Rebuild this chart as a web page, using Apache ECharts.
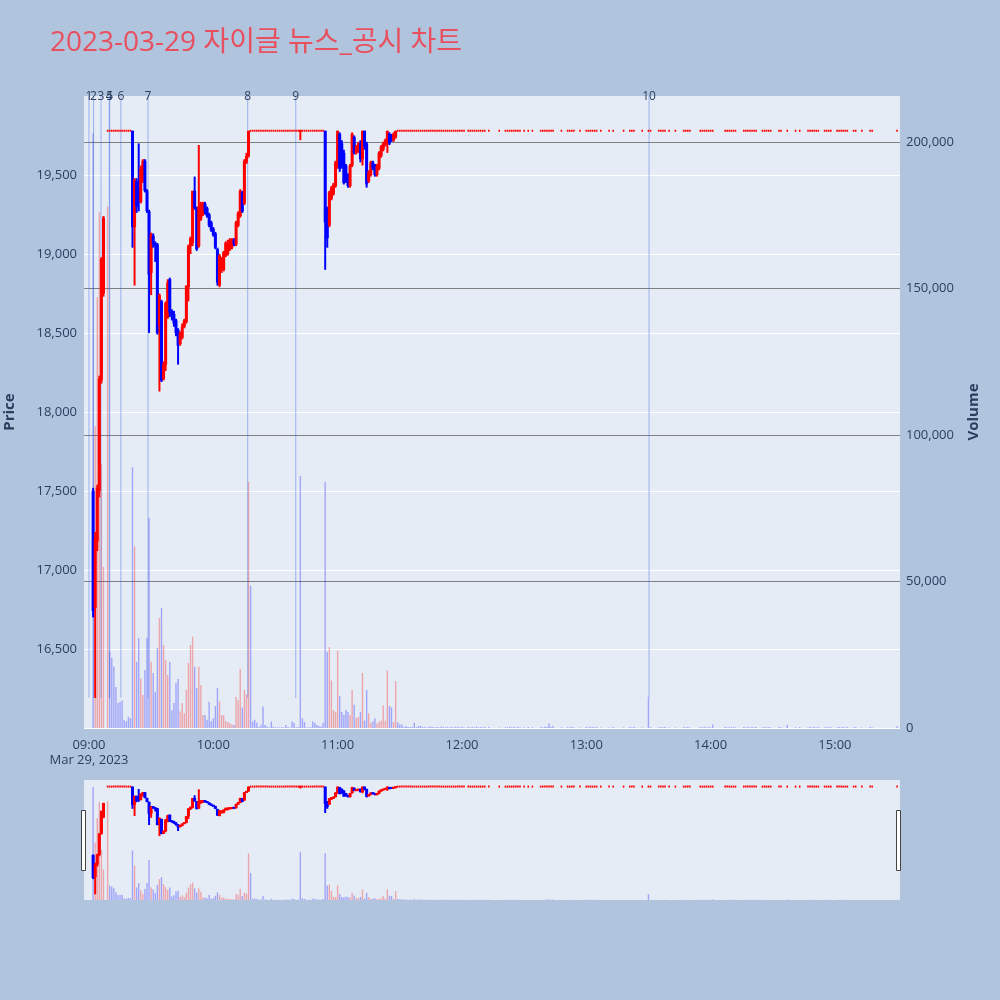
<!DOCTYPE html>
<html>
<head>
<meta charset="utf-8">
<script src="https://cdn.jsdelivr.net/npm/echarts@6/dist/echarts.min.js"></script>
<style>
html,body{margin:0;padding:0;background:#b0c4de;}
#chart{width:1000px;height:1000px;}
</style>
</head>
<body>
<div id="chart"></div>
<script>
// ---------- data ----------
const chartTitle = '2023-03-29 자이글 뉴스_공시 차트';
const dateLabel = 'Mar 29, 2023';

// minute candles with real price movement
const sessionTimes = [
 '09:02','09:03','09:04','09:05','09:06','09:07',
 '09:21','09:22','09:23','09:24','09:25','09:26','09:27','09:28','09:29','09:30',
 '09:31','09:32','09:33','09:34','09:35','09:36','09:37','09:38','09:39','09:40',
 '09:41','09:42','09:43','09:44','09:45','09:46','09:47','09:48','09:49','09:50',
 '09:51','09:52','09:53','09:54','09:55','09:56','09:57','09:58','09:59','10:00',
 '10:01','10:02','10:03','10:04','10:05','10:06','10:07','10:08','10:09','10:10',
 '10:11','10:12','10:13','10:14','10:15','10:16','10:17',
 '10:42',
 '10:54','10:55','10:56','10:57','10:58','10:59','11:00','11:01','11:02','11:03',
 '11:04','11:05','11:06','11:07','11:08','11:09','11:10','11:11','11:12','11:13',
 '11:14','11:15','11:16','11:17','11:18','11:19','11:20','11:21','11:22','11:23',
 '11:24','11:25','11:26','11:27','11:28'
];
const opens = [
 17500,16760,17180,17500,18200,18750,
 19780,19170,19460,19420,19330,19500,19590,19400,19270,18880,
 19115,19070,19060,18550,18700,18210,18300,18600,18840,18640,
 18620,18580,18520,18430,18470,18540,18570,18790,19050,19070,
 19400,19290,19050,19220,19250,19320,19290,19250,19200,19160,
 19130,19030,18800,18930,18900,18990,19000,19030,19040,19090,
 19060,19180,19240,19390,19320,19580,19620,
 19780,
 19780,19280,19180,19350,19380,19430,19560,19760,19700,19640,
 19560,19500,19430,19560,19740,19640,19650,19700,19600,19780,
 19700,19460,19500,19580,19560,19500,19540,19620,19660,19690,
 19700,19760,19750,19720,19740
];
const highs = [
 17520,17240,17540,18230,18980,19240,
 19780,19480,19480,19700,19560,19600,19600,19410,19280,19135,
 19130,19080,19070,18750,18710,18320,18700,18840,18850,18650,
 18640,18590,18530,18510,18560,18590,18800,19060,19110,19400,
 19490,19300,19690,19330,19330,19330,19300,19260,19210,19170,
 19140,19040,19000,18980,19020,19080,19090,19100,19100,19100,
 19210,19270,19410,19400,19600,19640,19780,
 19780,
 19780,19300,19400,19430,19450,19590,19780,19770,19720,19660,
 19570,19510,19570,19770,19750,19690,19710,19720,19780,19780,
 19710,19530,19590,19590,19570,19570,19650,19690,19710,19730,
 19780,19770,19760,19770,19780
];
const lows = [
 16700,16190,17120,17460,18180,18730,
 19040,18800,19260,19270,19320,19450,19390,19260,18500,18740,
 19040,18950,18490,18130,18190,18200,18260,18590,18600,18580,
 18540,18480,18300,18420,18460,18530,18560,18700,19000,19050,
 19280,19020,19040,19210,19240,19250,19230,19170,19140,19110,
 19030,18800,18790,18880,18890,18980,18990,19020,19030,19050,
 19050,19170,19230,19260,19310,19570,19610,
 19720,
 18900,19040,19170,19340,19370,19420,19540,19520,19540,19440,
 19450,19420,19420,19550,19630,19630,19640,19580,19560,19660,
 19420,19450,19490,19530,19490,19490,19530,19610,19650,19680,
 19640,19690,19710,19710,19730
];
const closes = [
 16740,17200,17520,18210,18970,19230,
 19170,19470,19300,19330,19540,19590,19400,19270,18870,19120,
 19060,19050,18500,18740,18200,18300,18690,18820,18630,18610,
 18560,18500,18420,18500,18540,18580,18800,19050,19100,19400,
 19290,19030,19300,19320,19320,19270,19240,19180,19150,19120,
 19040,18820,18990,18970,19010,19070,19070,19090,19090,19060,
 19200,19260,19400,19270,19590,19620,19780,
 19780,
 19200,19100,19390,19420,19440,19580,19780,19540,19560,19450,
 19460,19430,19560,19760,19640,19680,19700,19600,19780,19680,
 19440,19520,19580,19540,19500,19560,19640,19680,19700,19720,
 19780,19700,19720,19760,19780
];
const volumes = [
 203000,103000,147000,176000,90000,55000,
 89000,62000,22600,30700,17000,11300,19800,30700,71700,22600,
 18800,12400,27300,37500,41000,28300,23200,18100,22600,6100,
 8500,15400,16700,5600,8500,5000,13000,22200,28300,31200,
 20900,13600,20900,14700,4400,4400,2800,9000,2300,3300,
 7500,13600,9000,4400,4400,2300,2000,1700,1200,1000,
 10700,9500,20100,7000,13000,11500,84000,
 86000,
 84000,26000,27600,16200,6100,5500,26400,10900,5500,4400,
 6200,5500,4400,13000,7900,3400,3800,5500,18800,2500,
 13000,5000,1800,2200,3300,1500,2200,2500,7800,2500,
 19600,7500,7000,2000,16000
];

// minutes traded only at the upper limit price (flat candles)
const limitPrice = 19780;
const limitTimes = [
 '09:09','09:10','09:11','09:12','09:13','09:14','09:15','09:16','09:17','09:18','09:19','09:20',
 '10:18','10:19','10:20','10:21','10:22','10:23','10:24','10:25','10:26','10:27','10:28','10:29',
 '10:30','10:31','10:32','10:33','10:34','10:35','10:36','10:37','10:38','10:39','10:40','10:41',
 '10:43','10:44','10:45','10:46','10:47','10:48','10:49','10:50','10:51','10:52','10:53',
 '11:29','11:30','11:31','11:32','11:33','11:34','11:35','11:36','11:37','11:38','11:39','11:40',
 '11:41','11:42','11:43','11:44','11:45','11:46','11:47','11:48','11:49','11:50','11:51','11:52',
 '11:53','11:54','11:55','11:56','11:57','11:58','11:59','12:00','12:01',
 '12:03','12:04','12:05','12:06','12:07','12:08','12:09','12:10','12:11',
 '12:13','12:18','12:21','12:22','12:23','12:24','12:25','12:26','12:27','12:28','12:30','12:32',
 '12:34','12:38','12:39','12:40','12:41','12:42','12:43','12:44','12:48','12:51','12:52','12:53',
 '12:54','12:57','13:00','13:01','13:02','13:03','13:04','13:05','13:07','13:11','13:13','13:18',
 '13:21','13:22','13:23','13:27','13:30','13:31','13:35','13:36','13:37','13:38','13:40','13:43',
 '13:47','13:48','13:49','13:50','13:55','13:56','13:57','13:58','13:59','14:00','14:01','14:07',
 '14:08','14:09','14:10','14:11','14:12','14:16','14:17','14:18','14:19','14:20','14:21','14:22',
 '14:25','14:26','14:27','14:28','14:29','14:33','14:34','14:37','14:41','14:43','14:47','14:48',
 '14:49','14:50','14:51','14:52','14:55','14:56','14:57','14:58','15:01','15:02','15:03','15:04',
 '15:05','15:06','15:09','15:10','15:13','15:17','15:18','15:30'
];
const limitVolumes = [
 178000,26000,24000,21000,14000,8500,9000,9500,2700,2300,3800,3300,
 48500,2200,2800,1800,300,1000,7300,1000,500,200,2200,500,
 200,200,200,300,200,1000,300,200,2200,1800,200,300,
 3300,2000,200,200,300,2200,1800,1000,700,500,1800,
 2000,1200,1200,300,700,300,300,300,1800,300,700,700,
 400,300,200,300,500,300,200,300,200,400,300,200,
 300,200,300,200,400,300,200,300,200,
 300,200,300,200,400,200,300,200,300,
 300,200,300,200,400,200,300,200,300,200,200,300,
 200,300,200,400,300,1500,300,800,200,300,200,300,
 200,200,300,200,400,300,200,300,200,200,300,200,
 300,200,300,200,10500,300,200,300,200,300,200,200,
 300,200,300,200,300,200,300,200,300,200,1200,300,
 200,300,200,300,200,300,200,300,200,300,200,300,
 200,300,200,300,200,300,200,1000,200,300,200,300,
 200,300,200,300,200,300,200,300,200,300,200,300,
 200,300,200,300,200,300,200,600
];

// news / disclosure markers
const newsTimes = ['09:00:00','09:02:12','09:05:48','09:09:48','09:10:00','09:15:24','09:28:30','10:16:36','10:39:48','13:30:18'];
const newsLabels = ['1','2','3','4','5','6','7','8','9','10'];

// axis tick values
const hourTicks = ['09:00','10:00','11:00','12:00','13:00','14:00','15:00'];

// ---------- build ----------
function toTs(s){
  const p = s.split(':').map(Number);
  return new Date(2023, 2, 29, p[0], p[1], p[2] || 0).getTime();
}
const rows = [];
sessionTimes.forEach((t,i)=>rows.push({t:toTs(t),o:opens[i],h:highs[i],l:lows[i],c:closes[i],v:volumes[i]}));
limitTimes.forEach((t,i)=>rows.push({t:toTs(t),o:limitPrice,h:limitPrice,l:limitPrice,c:limitPrice,v:limitVolumes[i]}));
rows.sort((a,b)=>a.t-b.t);

const UP = '#ff0000', DOWN = '#0000ff';
const UPV = 'rgba(255,0,0,0.3)', DOWNV = 'rgba(0,0,255,0.3)';
// candle colour: rise red, fall blue, flat -> compared with previous close
const candleColors = rows.map((r,i)=>{
  if (r.c > r.o) return UP;
  if (r.c < r.o) return DOWN;
  const prev = i>0 ? rows[i-1].c : r.c;
  return prev <= r.c ? UP : DOWN;
});
const candleData = rows.map(r=>[r.t, r.o, r.c, r.l, r.h]);
const volData = rows.map((r,i)=>{
  const prev = i>0 ? rows[i-1].c : r.o;
  const up = r.c > r.o || (r.c === r.o && r.c > prev);
  return {value:[r.t, r.v], itemStyle:{color: up ? UPV : DOWNV}};
});

const priceMin = 16000, priceMax = 20000, priceStep = 500;
const volMax = 215700, volStep = 50000;
const dayLow = Math.min.apply(null, lows);
const newsData = newsTimes.map((t,i)=>[toTs(t), dayLow, priceMax, i]);

const xMin = toTs('08:57:36');
const xMax = toTs('15:31:24');

const FONT = '"Open Sans", "Noto Sans CJK KR", sans-serif';
const TXT = '#2a3f5f';

function fmtNum(v){ return Math.round(v).toLocaleString('en-US'); }
function fmtTime(v){
  const d = new Date(v);
  const s = String(d.getHours()).padStart(2,'0') + ':' + String(d.getMinutes()).padStart(2,'0');
  return Math.abs(v - toTs(hourTicks[0])) < 1000 ? s + '\n' + dateLabel : s;
}

const priceGridColors = [];
for (let v = priceMin; v <= priceMax; v += priceStep) priceGridColors.push(v < priceMax ? '#ffffff' : 'rgba(0,0,0,0)');
const volGridColors = ['rgba(0,0,0,0)'];
for (let v = volStep; v <= volMax; v += volStep) volGridColors.push('#7f7f7f');
volGridColors.push('rgba(0,0,0,0)');

// candle drawn through the axes' own scales (api.coord)
function renderCandle(params, api){
  const t = api.value(0);
  const po = api.coord([t, api.value(1)]);
  const pc = api.coord([t, api.value(2)]);
  const pl = api.coord([t, api.value(3)]);
  const ph = api.coord([t, api.value(4)]);
  const x = po[0];
  const color = candleColors[params.dataIndex];
  const flat = api.value(3) === api.value(4);
  if (flat) {
    // a minute with one price only: a short tick
    return {type: 'rect', shape: {x: x - 0.8, y: po[1] - 1, width: 1.6, height: 2}, style: {fill: color}};
  }
  let top = Math.min(po[1], pc[1]), bot = Math.max(po[1], pc[1]);
  if (bot - top < 2) { const m = (top + bot) / 2; top = m - 1; bot = m + 1; }
  return {type: 'group', children: [
    {type: 'line', shape: {x1: x, y1: ph[1], x2: x, y2: pl[1]}, style: {stroke: color, lineWidth: 2}},
    {type: 'rect', shape: {x: x - 1.5, y: top, width: 3, height: bot - top}, style: {fill: color}}
  ]};
}

const chart = echarts.init(document.getElementById('chart'), null, {renderer:'canvas'});
chart.setOption({
  animation: false,
  backgroundColor: '#b0c4de',
  title: {
    text: chartTitle, left: 50, top: 29, padding: 0,
    textStyle: {color: '#e8505f', fontSize: 28, fontWeight: 'normal', fontFamily: FONT}
  },
  grid: [
    {left: 84, right: 100, top: 96, height: 632, show: true, backgroundColor: '#e5ecf6', borderWidth: 0,
     containLabel: false, outerBoundsMode: 'none'},
    {left: 84, right: 100, top: 780, height: 120, show: true, backgroundColor: '#e5ecf6', borderWidth: 0,
     containLabel: false, outerBoundsMode: 'none'}
  ],
  xAxis: [
    {
      type: 'value', gridIndex: 0, min: xMin, max: xMax, scale: true,
      axisLine: {show: false}, axisTick: {show: false}, splitLine: {show: false},
      axisLabel: {
        customValues: hourTicks.map(toTs), formatter: fmtTime,
        color: TXT, fontSize: 13, fontFamily: FONT, margin: 10, lineHeight: 15,
        hideOverlap: false, showMinLabel: true, showMaxLabel: true
      }
    },
    {type: 'value', gridIndex: 1, min: xMin, max: xMax, scale: true, show: false}
  ],
  yAxis: [
    {
      type: 'value', gridIndex: 0, position: 'left', min: priceMin, max: priceMax, interval: priceStep,
      name: 'Price', nameLocation: 'middle', nameGap: 67, nameRotate: 90,
      nameTextStyle: {color: TXT, fontSize: 15, fontWeight: 'bold', fontFamily: FONT},
      axisLine: {show: false}, axisTick: {show: false},
      axisLabel: {formatter: fmtNum, showMinLabel: false, showMaxLabel: false, color: TXT, fontSize: 13, fontFamily: FONT, margin: 7},
      splitLine: {show: true, lineStyle: {color: priceGridColors, width: 1}}
    },
    {
      type: 'value', gridIndex: 0, position: 'right', min: 0, max: volMax, interval: volStep,
      name: 'Volume', nameLocation: 'middle', nameGap: 66, nameRotate: 90,
      nameTextStyle: {color: TXT, fontSize: 15, fontWeight: 'bold', fontFamily: FONT},
      axisLine: {show: false}, axisTick: {show: false},
      axisLabel: {formatter: fmtNum, showMaxLabel: false, color: TXT, fontSize: 13, fontFamily: FONT, margin: 6},
      splitLine: {show: true, lineStyle: {color: volGridColors, width: 1}}
    },
    {type: 'value', gridIndex: 1, min: priceMin, max: priceMax, show: false},
    {type: 'value', gridIndex: 1, min: 0, max: volMax, show: false}
  ],
  series: [
    {
      type: 'bar', name: 'Volume', xAxisIndex: 0, yAxisIndex: 1, data: volData,
      barWidth: 1.4, z: 1, large: false, emphasis: {disabled: true}
    },
    {
      type: 'custom', name: 'News', xAxisIndex: 0, yAxisIndex: 0, data: newsData, z: 2,
      encode: {x: 0, y: [1, 2]}, clip: false, silent: true,
      renderItem: function(params, api){
        const x = api.value(0);
        const p0 = api.coord([x, api.value(1)]);
        const p1 = api.coord([x, api.value(2)]);
        return {type: 'group', children: [
          {type: 'line', shape: {x1: p0[0], y1: p0[1], x2: p1[0], y2: p1[1]},
           style: {stroke: 'rgba(65,105,225,0.45)', lineWidth: 1}},
          {type: 'text', x: p1[0], y: p1[1] + 1,
           style: {text: newsLabels[params.dataIndex], fill: TXT, font: '12px ' + FONT, align: 'center', verticalAlign: 'middle'}}
        ]};
      }
    },
    {
      type: 'custom', name: 'Price', xAxisIndex: 0, yAxisIndex: 0, data: candleData, z: 3,
      encode: {x: 0, y: [1, 2, 3, 4]}, renderItem: renderCandle, silent: true
    },
    {
      type: 'bar', xAxisIndex: 1, yAxisIndex: 3, data: volData,
      barWidth: 1.4, z: 1, large: false, emphasis: {disabled: true}, silent: true
    },
    {
      type: 'custom', xAxisIndex: 1, yAxisIndex: 2, data: candleData, z: 3,
      encode: {x: 0, y: [1, 2, 3, 4]}, renderItem: renderCandle, silent: true
    }
  ],
  graphic: [
    {type: 'rect', shape: {x: 81.5, y: 810.5, width: 4, height: 60}, style: {fill: '#fff', stroke: '#444', lineWidth: 1}, z: 10},
    {type: 'rect', shape: {x: 896.5, y: 810.5, width: 4, height: 60}, style: {fill: '#fff', stroke: '#444', lineWidth: 1}, z: 10}
  ]
});
</script>
</body>
</html>
